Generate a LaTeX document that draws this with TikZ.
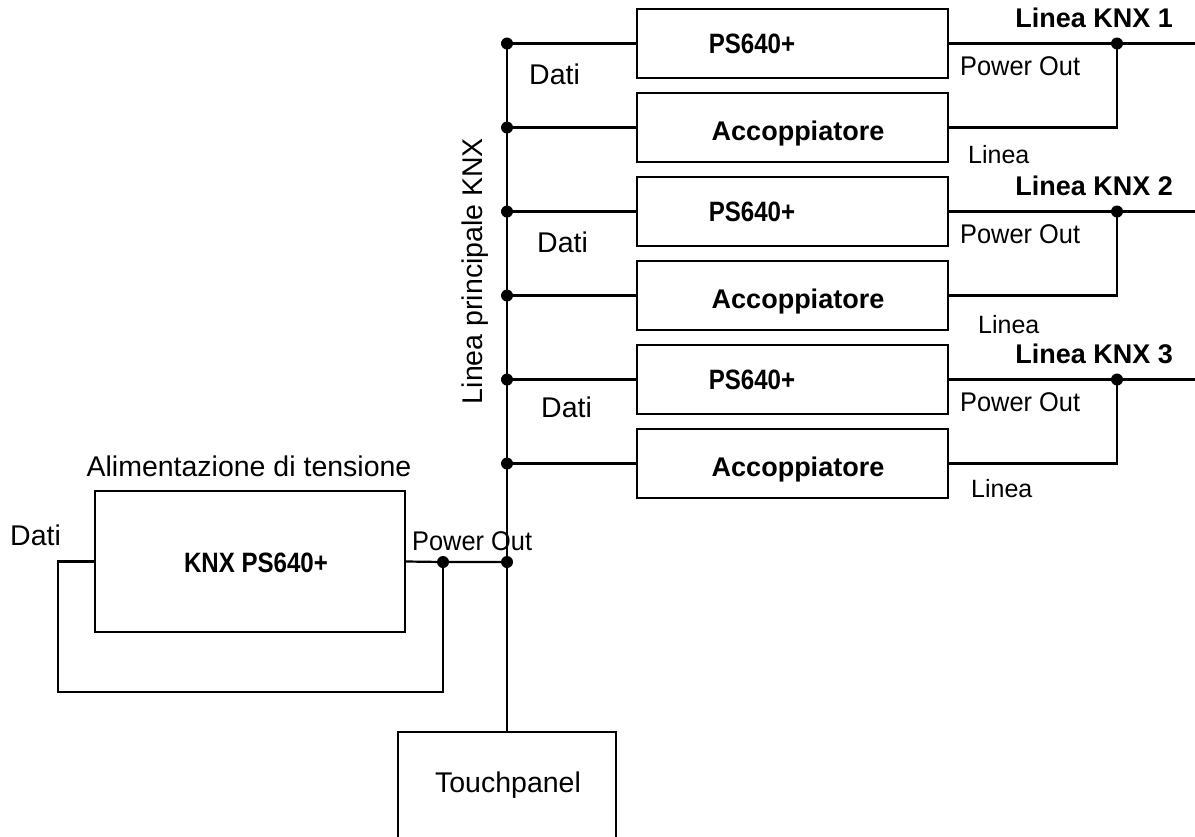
\documentclass[tikz,border=0pt]{standalone}
\usepackage{fontspec}
\setmainfont{Liberation Sans}
\newfontfamily\condfont[FakeStretch=0.86]{Liberation Sans}
\newfontfamily\pwrfont[FakeStretch=0.94]{Liberation Sans}
\begin{document}
\begin{tikzpicture}[x=1pt,y=-1pt,
  wire/.style={line width=2.2pt},
  boxnode/.style={draw,line width=2.2pt,minimum width=311pt,minimum height=69pt,inner sep=0pt},
  junction/.style={circle,fill,inner sep=0pt,minimum size=12pt},
  reg/.style={font=\fontsize{28.5}{32}\selectfont,inner sep=0pt},
  sml/.style={font=\fontsize{25}{28}\selectfont,inner sep=0pt},
  bld/.style={font=\bfseries\fontsize{27}{30}\selectfont,inner sep=0pt},
  cnd/.style={font=\condfont\bfseries\fontsize{28}{30}\selectfont,inner sep=0pt},
  pwr/.style={font=\pwrfont\fontsize{27}{30}\selectfont,inner sep=0pt}]
\useasboundingbox (0,0) rectangle (1195,836);
\clip (0,0) rectangle (1195,836);

% groups
\foreach \k/\lx/\ly/\dx/\dy in {0/968/163/529/84, 1/537/252/537/252, 2/971/497/541/417}{
  \pgfmathsetmacro{\yp}{43.5+168*\k}
  \pgfmathsetmacro{\ya}{127.5+168*\k}
  \node[boxnode] (ps\k) at (792.5,\yp) {};
  \node[boxnode] (acc\k) at (792.5,\ya) {};
  \node[cnd,anchor=base] (pst\k) at (752,{\yp+10}) {PS640+};
  \node[bld,anchor=base] (acct\k) at (798,{\ya+12.5}) {Accoppiatore};
  \node[junction] (dp\k) at (507,\yp) {};
  \node[junction] (da\k) at (507,\ya) {};
  \node[junction] (r\k) at (1117,\yp) {};
  \coordinate (e\k) at (1197,\yp);
  \draw[wire] (dp\k.center) -- (ps\k.west);
  \draw[wire] (da\k.center) -- (acc\k.west);
  \draw[wire] (ps\k.east) -- (r\k.center) -- (e\k);
  \draw[wire] (r\k.center) |- (acc\k.east);
  \node[bld,anchor=base east] (lk\k) at (1173,{\yp-16.5}) {Linea KNX \the\numexpr\k+1\relax};
  \node[pwr,anchor=base west] (po\k) at (960,{\yp+31.5}) {Power Out};
  \node[reg,anchor=base west] (dt\k) at (\dx,\dy) {Dati};
}
\node[sml,anchor=base west] (li0) at (968,163) {Linea};
\node[sml,anchor=base west] (li1) at (978,333) {Linea};
\node[sml,anchor=base west] (li2) at (971,497) {Linea};

% main line
\node[reg,anchor=base,rotate=90] (mainlbl) at (482,271) {Linea principale KNX};
\node[junction] (db) at (507,562) {};
\node[junction] (pd) at (443,562) {};
\node[draw,line width=2.2pt,minimum width=218pt,minimum height=110pt,inner sep=0pt] (tp) at (507,787) {};
\node[reg,anchor=base] (tpt) at (508,792) {Touchpanel};
\draw[wire] (dp0.center) -- (tp.north);

% power supply
\node[draw,line width=2.2pt,minimum width=310pt,minimum height=141pt,inner sep=0pt] (knx) at (250,561.5) {};
\node[cnd,anchor=base] (knxt) at (256,572) {KNX PS640+};
\node[reg,anchor=base] (alim) at (249,476) {Alimentazione di tensione};
\node[reg,anchor=base west] (dl) at (10,545) {Dati};
\node[pwr,anchor=base west] (pol) at (412,550) {Power Out};
\coordinate (lc) at (58,692);
\draw[wire] (knx.east) -- (pd.center) -- (db.center);
\draw[wire] (pd.center) |- (lc) |- (knx.west);
\end{tikzpicture}
\end{document}
